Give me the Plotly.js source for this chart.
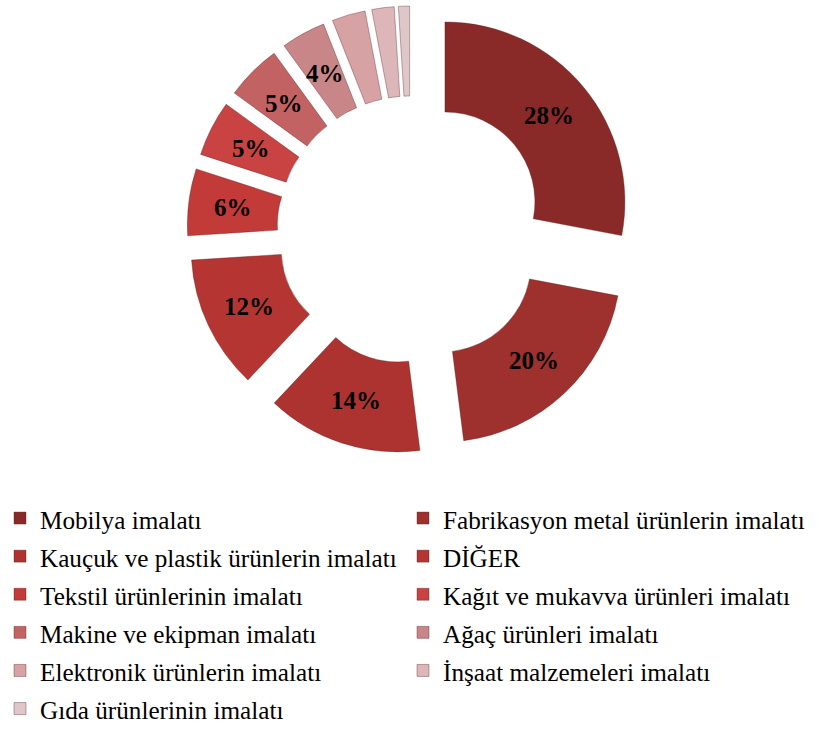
<!DOCTYPE html>
<html>
<head>
<meta charset="utf-8">
<script src="https://cdn.plot.ly/plotly-3.0.1.min.js"></script>
<style>html,body{margin:0;padding:0;background:#fff;}#chart{width:819px;height:733px;}</style>
</head>
<body>
<div id="chart"></div>
<script>
const categories = [
  "Mobilya imalatı",
  "Fabrikasyon metal ürünlerin imalatı",
  "Kauçuk ve plastik ürünlerin imalatı",
  "DİĞER",
  "Tekstil ürünlerinin imalatı",
  "Kağıt ve mukavva ürünleri imalatı",
  "Makine ve ekipman imalatı",
  "Ağaç ürünleri imalatı",
  "Elektronik ürünlerin imalatı",
  "İnşaat malzemeleri imalatı",
  "Gıda ürünlerinin imalatı"
];
const shares = [28, 20, 14, 12, 6, 5, 5, 4, 3, 2, 1];
const showLabel = [true, true, true, true, true, true, true, true, false, false, false];
const sliceColors = [
  "#8a2a28", "#9e302d", "#ad3330", "#b53532", "#c23b38", "#c84341",
  "#c26262", "#c98688", "#d6a2a4", "#dcb6b8", "#ddc7c9"
];

// layout geometry (pixels)
const W = 819, H = 733;
const PIE_X = [187, 635], PIE_Y = [6, 454];
const HOLE = 0.5, PULL = 0.245;

const trace = {
  type: "pie",
  labels: categories.map(c => '<span style="font-size:25.2px">' + c + '</span>'),
  values: shares,
  sort: false,
  direction: "clockwise",
  rotation: 0,
  hole: HOLE,
  pull: PULL,
  marker: { colors: sliceColors, line: { color: "rgba(80,20,20,0.35)", width: 1 } },
  textinfo: "none",
  hoverinfo: "label+percent",
  domain: { x: [PIE_X[0]/W, PIE_X[1]/W], y: [1 - PIE_Y[1]/H, 1 - PIE_Y[0]/H] }
};

// percentage labels placed at the middle of each (pulled) ring sector
const total = shares.reduce((a, b) => a + b, 0);
const cx = (PIE_X[0] + PIE_X[1]) / 2, cy = (PIE_Y[0] + PIE_Y[1]) / 2;
const rOuter = Math.min(PIE_X[1] - PIE_X[0], PIE_Y[1] - PIE_Y[0]) / 2 / (1 + PULL);
const rMid = rOuter * (1 + HOLE) / 2 + rOuter * PULL;
const annotations = [];
let cum = 0;
shares.forEach((v, i) => {
  const mid = (cum + v / 2) / total * 2 * Math.PI;
  cum += v;
  if (!showLabel[i]) return;
  const px = cx + rMid * Math.sin(mid);
  const py = cy - rMid * Math.cos(mid);
  annotations.push({
    x: px / W, y: 1 - py / H, xref: "paper", yref: "paper",
    text: "<b>" + Math.round(v / total * 100) + "%</b>",
    showarrow: false, xanchor: "center", yanchor: "middle",
    font: { family: "Liberation Serif", size: 25, color: "#000" }
  });
});

const layout = {
  width: W, height: H,
  margin: { l: 0, r: 0, t: 0, b: 0 },
  paper_bgcolor: "#fff",
  showlegend: true,
  annotations: annotations,
  legend: {
    orientation: "h",
    x: 0, xanchor: "left",
    y: 0, yanchor: "bottom",
    entrywidth: 358, entrywidthmode: "pixels",
    font: { family: "Liberation Serif", size: 27, color: "#000" },
    traceorder: "normal"
  }
};

Plotly.newPlot("chart", [trace], layout, { displayModeBar: false, staticPlot: true });
</script>
</body>
</html>
